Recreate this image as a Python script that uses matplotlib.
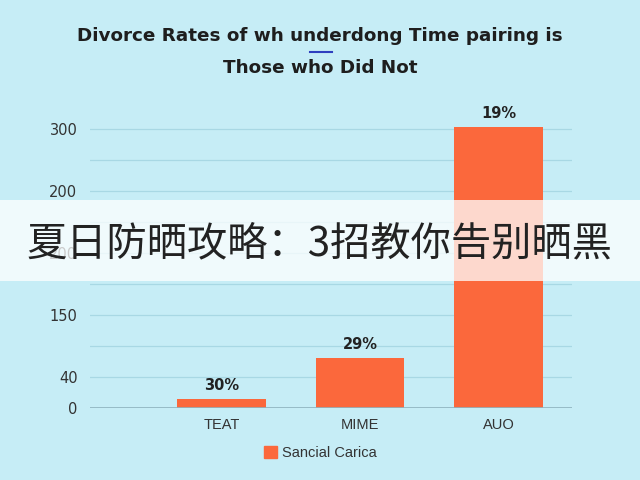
import numpy as np
import matplotlib.pyplot as plt
import matplotlib.patches as mpatches
from matplotlib.lines import Line2D

# bar heights are in grid steps (the y axis labels are not evenly spaced)
categories = ['TEAT', 'MIME', 'AUO']
heights = [0.29, 1.6, 9.06]
bar_labels = ['30%', '29%', '19%']
tick_pos = [0, 1, 3, 5, 7, 9]
tick_labels = ['0', '40', '150', '200', '200', '300']
series_name = 'Sancial Carica'

bg = '#c6edf6'
bar_color = '#fb683c'

fig = plt.figure(figsize=(6.4, 4.8), dpi=100)
fig.patch.set_facecolor(bg)
ax = fig.add_axes([90/640, 1 - 408/480, 482/640, 290/480])
ax.set_facecolor(bg)

x = np.arange(len(categories))
bars = ax.bar(x, heights, width=0.64, color=bar_color, zorder=3, label=series_name)
for b, lab in zip(bars, bar_labels):
    ax.text(b.get_x() + b.get_width()/2, b.get_height() + 0.2, lab, ha='center', va='bottom',
            fontsize=10.5, fontweight='bold', color='#222222', family='DejaVu Sans')

ax.set_xlim(-0.95, 2.53)
ax.set_ylim(0, 9.35)
ax.set_xticks(x)
ax.set_xticklabels(categories, fontsize=10.5, color='#333333', family='Liberation Sans')
ax.set_yticks(range(10))
ylabels = ['' for _ in range(10)]
for p, t in zip(tick_pos, tick_labels):
    ylabels[p] = t
ax.set_yticklabels(ylabels, fontsize=10.5, color='#333333', family='DejaVu Sans')
ax.tick_params(axis='y', length=0, pad=9)
ax.tick_params(axis='x', length=0, pad=7)
ax.grid(axis='y', color='#a8d8e4', linewidth=0.9, zorder=0)
for s in ax.spines.values():
    s.set_visible(False)
ax.axhline(0, color='#8fb3bf', linewidth=1.2, zorder=4)

leg = ax.legend(handles=[mpatches.Patch(color=bar_color, label=series_name)],
                loc='center', bbox_to_anchor=(0.5, 1 - 453/480), bbox_transform=fig.transFigure,
                frameon=False, handlelength=0.9, handleheight=0.9, handletextpad=0.35,
                prop={'family': 'Liberation Sans', 'size': 10.5})
for t in leg.get_texts():
    t.set_color('#333333')

# title
fig.text(0.5, 1 - 36/480, 'Divorce Rates of wh underdong Time pairing is', ha='center', va='center',
         fontsize=13.2, fontweight='bold', color='#1e1e1e', family='DejaVu Sans')
fig.add_artist(Line2D([310/640, 332/640], [1 - 52/480, 1 - 52/480], color='#2f3fbf', linewidth=1.5))
fig.text(0.5, 1 - 68/480, 'Those who Did Not', ha='center', va='center',
         fontsize=13.2, fontweight='bold', color='#1e1e1e', family='DejaVu Sans')

# overlay banner
fig.add_artist(mpatches.Rectangle((0, 1 - 281/480), 1, 81/480, transform=fig.transFigure,
                                  facecolor='white', alpha=0.75, edgecolor='none', zorder=10))
fig.text(319/640, 1 - 244/480, '夏日防晒攻略：3招教你告别晒黑', ha='center', va='center',
         fontsize=29, color='#222222', family=['Noto Sans CJK SC', 'DejaVu Sans'], zorder=11)

fig.savefig('out.png', dpi=100, facecolor=bg)
